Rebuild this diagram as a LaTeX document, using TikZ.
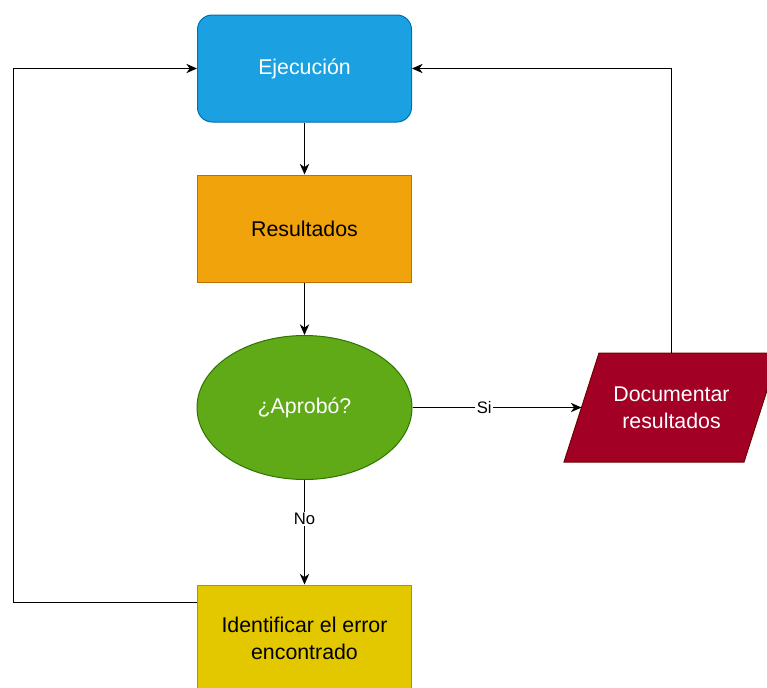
\documentclass[tikz,border=0pt]{standalone}
\usepackage{fontspec}
\setmainfont{Liberation Sans}
\usetikzlibrary{shapes.geometric,arrows.meta}
\definecolor{ejfill}{HTML}{1BA1E2}\definecolor{ejdraw}{HTML}{006EAF}
\definecolor{refill}{HTML}{F0A30A}\definecolor{redraw}{HTML}{BD7000}
\definecolor{apfill}{HTML}{60A917}\definecolor{apdraw}{HTML}{2D7600}
\definecolor{dofill}{HTML}{A20025}\definecolor{dodraw}{HTML}{6F0000}
\definecolor{idfill}{HTML}{E3C800}\definecolor{iddraw}{HTML}{B09500}
\tikzset{
  box/.style={rectangle, line width=0.75pt, minimum width=160.5pt, minimum height=80.25pt,
    align=center, font=\fontsize{16}{20.5}\selectfont, inner sep=0pt},
  conn/.style={line width=0.75pt, -{Stealth[length=8pt,width=7pt,inset=2.5pt]}},
  lbl/.style={fill=white, inner sep=1pt, font=\fontsize{12.5}{15}\selectfont},
}
\begin{document}
\begin{tikzpicture}[x=0.75pt,y=-0.75pt]
\useasboundingbox (0,0) rectangle (767,687);
\node[box, fill=ejfill, draw=ejdraw, text=white, rounded corners=11pt] (ejec) at (304.5,68.5) {Ejecución};
\node[box, fill=refill, draw=redraw] (res) at (304.5,228.5) {Resultados};
\node[box, ellipse, fill=apfill, draw=apdraw, text=white, minimum width=161.25pt, minimum height=108pt] (apr) at (304.5,407.5) {¿Aprobó?};
\filldraw[fill=dofill, draw=dodraw, line width=0.75pt] (599,353) -- (779,353) -- (744,462) -- (564,462) -- cycle;
\node[box, text=white, minimum width=161.25pt, minimum height=81.75pt] (doc) at (671.5,407.5) {Documentar\\resultados};
\coordinate (docw) at (581.5,407.5);
\node[box, fill=idfill, draw=iddraw] (ide) at (304.5,638.5) {Identificar el error\\encontrado};
\draw[conn] (ejec) -- (res);
\draw[conn] (res) -- (apr);
\draw[conn] (apr.east) -- node[lbl, pos=0.424] {Si} (docw);
\draw[conn] (apr.south) -- node[lbl, pos=0.37] {No} (ide.north);
\coordinate (idl) at ([yshift=-13.5pt]ide.north west);
\draw[conn] (idl) -- ++(-184,0) |- (ejec.west);
\draw[conn] (doc.north) |- (ejec.east);
\end{tikzpicture}
\end{document}
